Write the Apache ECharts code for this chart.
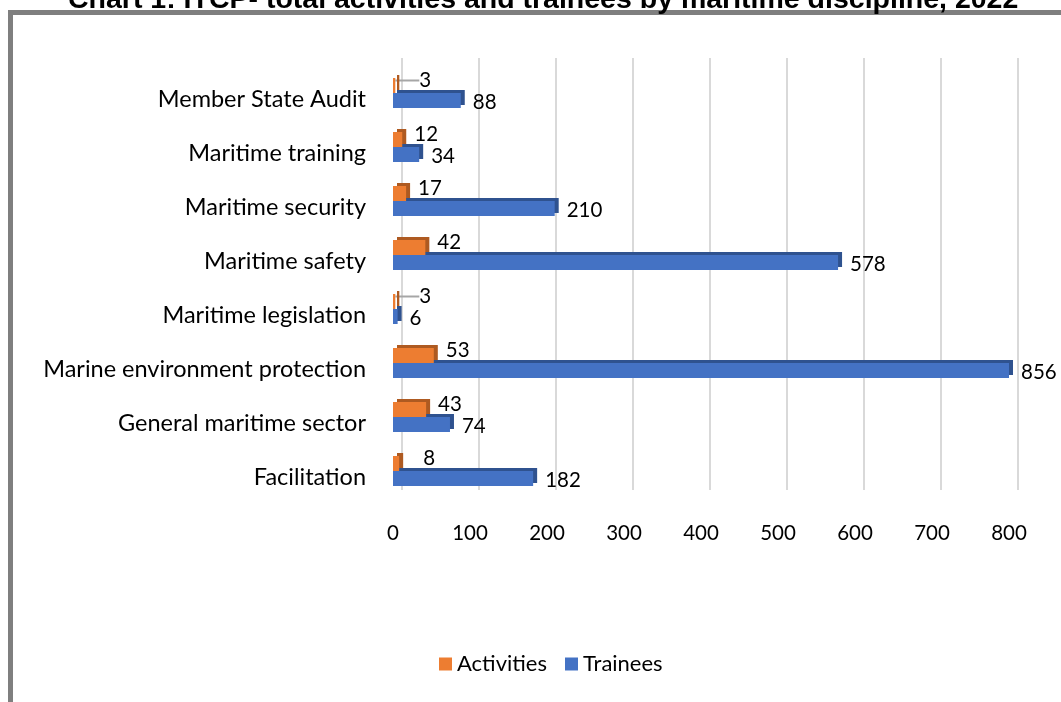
<!DOCTYPE html>
<html>
<head>
<meta charset="utf-8">
<script src="https://cdn.jsdelivr.net/npm/echarts@6/dist/echarts.min.js"></script>
<style>
  body { margin: 0; background: #fff; overflow: hidden; }
  #frame { position: absolute; left: 8px; top: 10px; width: 1200px; height: 900px;
           border-top: 5px solid #7f7f7f; border-left: 5px solid #7f7f7f; }
  #main { position: absolute; left: 0; top: 0; width: 1061px; height: 702px; }
</style>
</head>
<body>
<div id="frame"></div>
<div id="main"></div>
<script>
  // values
  var categories = ['Facilitation', 'General maritime sector', 'Marine environment protection',
    'Maritime legislation', 'Maritime safety', 'Maritime security', 'Maritime training', 'Member State Audit'];
  var activities = [8, 43, 53, 3, 42, 17, 12, 3];
  var trainees = [182, 74, 856, 6, 578, 210, 34, 88];
  var xTicks = [0, 800, 100]; // min, max, interval

  var font = 'Lato';
  var myChart = echarts.init(document.getElementById('main'));

  // small values get pushed out with a leader line, like the original
  var actData = activities.map(function (v) {
    return v < 5 ? { value: v, labelLine: { show: true } } : v;
  });

  var hidden = { axisLine: { show: false }, axisTick: { show: false }, axisLabel: { show: false }, splitLine: { show: false } };

  myChart.setOption({
    animation: false,
    title: {
      text: 'Chart 1: ITCP- total activities and trainees by maritime discipline, 2022',
      left: 63, top: -19,
      textStyle: { fontFamily: 'Liberation Sans', fontWeight: 'bold', fontSize: 28.5, color: '#000' }
    },
    legend: {
      data: ['Activities', 'Trainees'],
      bottom: 22, left: 434,
      icon: 'rect', itemWidth: 13, itemHeight: 13, itemGap: 18,
      textStyle: { fontFamily: font, fontSize: 22, color: '#000' }
    },
    grid: [
      { left: 393, right: 52, top: 66, bottom: 204 },
      { left: 402, right: 43, top: 58, bottom: 212 },  // back wall for gridlines
      { left: 393, right: 52, top: 72, bottom: 198 }   // category labels sit a bit lower
    ],
    xAxis: [
      {
        type: 'value', gridIndex: 0,
        min: xTicks[0], max: xTicks[1], interval: xTicks[2],
        axisLine: { show: false }, axisTick: { show: false }, splitLine: { show: false },
        axisLabel: { margin: 25, fontFamily: font, fontSize: 20.5, color: '#000' }
      },
      {
        type: 'value', gridIndex: 1,
        min: xTicks[0], max: xTicks[1], interval: xTicks[2],
        axisLine: { show: false }, axisTick: { show: false }, axisLabel: { show: false },
        splitLine: { lineStyle: { color: '#d9d9d9', width: 2 } }
      },
      Object.assign({ type: 'value', gridIndex: 2, min: xTicks[0], max: xTicks[1] }, hidden)
    ],
    yAxis: [
      Object.assign({ type: 'category', gridIndex: 0, data: categories }, hidden),
      { type: 'value', gridIndex: 1, show: false },
      {
        type: 'category', gridIndex: 2, data: categories,
        axisLine: { show: false }, axisTick: { show: false },
        axisLabel: { margin: 27, fontFamily: font, fontSize: 23.5, color: '#000' }
      }
    ],
    series: [
      {
        name: 'Activities', type: 'bar', data: actData, z: 3,
        barWidth: 15, barGap: '0%',
        itemStyle: { color: '#ed7d31', shadowColor: '#ae5a21', shadowBlur: 0, shadowOffsetX: 4, shadowOffsetY: -3 },
        label: { show: true, position: 'right', distance: 12, fontFamily: font, fontSize: 20.5, color: '#000' },
        labelLine: { show: false, lineStyle: { color: '#a6a6a6', width: 2 } },
        labelLayout: function (p) {
          return { dx: p.rect.width < 8 ? 12 : 0, dy: -5 };
        }
      },
      {
        name: 'Trainees', type: 'bar', data: trainees, z: 2,
        barWidth: 15,
        itemStyle: { color: '#4472c4', shadowColor: '#2f528f', shadowBlur: 0, shadowOffsetX: 4, shadowOffsetY: -3 },
        label: { show: true, position: 'right', distance: 12, offset: [0, 2], fontFamily: font, fontSize: 20.5, color: '#000' }
      }
    ]
  });
</script>
</body>
</html>
